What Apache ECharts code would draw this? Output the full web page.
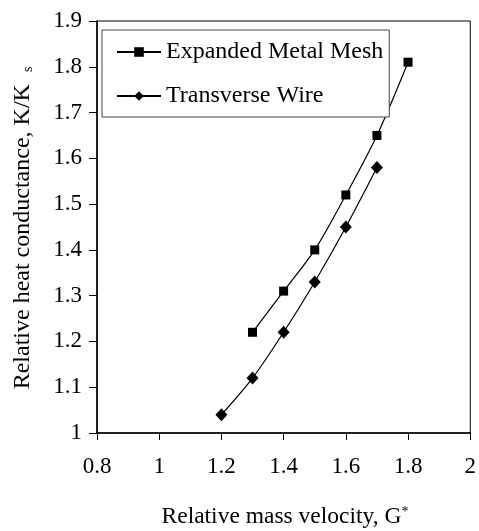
<!DOCTYPE html>
<html>
<head>
<meta charset="utf-8">
<script src="https://cdn.jsdelivr.net/npm/echarts@6/dist/echarts.min.js"></script>
<style>
html,body{margin:0;padding:0;background:#fff;}
#chart{width:479px;height:531px;}
</style>
</head>
<body>
<div id="chart"></div>
<script>
var seriesNames = ['Expanded Metal Mesh', 'Transverse Wire'];
var meshX = [1.3, 1.4, 1.5, 1.6, 1.7, 1.8];
var meshY = [1.22, 1.31, 1.40, 1.52, 1.65, 1.81];
var wireX = [1.2, 1.3, 1.4, 1.5, 1.6, 1.7];
var wireY = [1.04, 1.12, 1.22, 1.33, 1.45, 1.58];
var xTickLabels = ['0.8', '1', '1.2', '1.4', '1.6', '1.8', '2'];
var yTickLabels = ['1', '1.1', '1.2', '1.3', '1.4', '1.5', '1.6', '1.7', '1.8', '1.9'];
var xTitle = 'Relative mass velocity, G';
var yTitle = 'Relative heat conductance, K/K';

var FONT = "'Liberation Serif', 'Times New Roman', serif";
function pairs(xs, ys) { return xs.map(function (x, i) { return [x, ys[i]]; }); }
function fmt(labels, min, step) {
  return function (v) { var i = Math.round((v - min) / step); return labels[i] !== undefined ? labels[i] : ''; };
}

var chart = echarts.init(document.getElementById('chart'), null, { renderer: 'canvas' });
chart.setOption({
  backgroundColor: '#fff',
  animation: false,
  grid: { left: 97, right: 6, top: 21, bottom: 98, show: true, borderColor: '#000', borderWidth: 1, backgroundColor: 'transparent' },
  legend: {
    orient: 'vertical', left: 102, top: 30,
    padding: [10, 6, 9, 14],
    backgroundColor: '#fff', borderColor: '#444', borderWidth: 1,
    itemWidth: 44, itemHeight: 12, itemGap: 20,
    textStyle: { fontFamily: FONT, fontSize: 24, color: '#000', lineHeight: 24 },
    data: seriesNames
  },
  xAxis: {
    type: 'value', min: 0.8, max: 2, interval: 0.2,
    axisLine: { show: true, onZero: false, lineStyle: { color: '#000', width: 1.5 } },
    axisTick: { show: true, inside: false, length: 7, lineStyle: { color: '#000', width: 1 } },
    axisLabel: { margin: 22, fontFamily: FONT, fontSize: 23, color: '#000', formatter: fmt(xTickLabels, 0.8, 0.2) },
    splitLine: { show: false }
  },
  yAxis: {
    type: 'value', min: 1, max: 1.9, interval: 0.1,
    axisLine: { show: true, onZero: false, lineStyle: { color: '#000', width: 1.5 } },
    axisTick: { show: true, inside: false, length: 8, lineStyle: { color: '#000', width: 1 } },
    axisLabel: { margin: 15, fontFamily: FONT, fontSize: 23, color: '#000', formatter: fmt(yTickLabels, 1, 0.1) },
    splitLine: { show: false }
  },
  series: [
    {
      name: seriesNames[0], type: 'line', data: pairs(meshX, meshY),
      smooth: 0.3, symbol: 'rect', symbolSize: 9,
      lineStyle: { color: '#000', width: 1.2 }, itemStyle: { color: '#000' }
    },
    {
      name: seriesNames[1], type: 'line', data: pairs(wireX, wireY),
      smooth: 0.3, symbol: 'diamond', symbolSize: [12, 13],
      lineStyle: { color: '#000', width: 1.2 }, itemStyle: { color: '#000' }
    }
  ],
  graphic: [
    {
      type: 'text', x: 285, y: 517,
      style: {
        text: xTitle + '{sup|*}', align: 'center', verticalAlign: 'middle',
        font: '23.5px ' + FONT, fill: '#000',
        rich: { sup: { fontSize: 14, fontFamily: FONT, verticalAlign: 'top', fill: '#000' } }
      }
    },
    {
      type: 'text', x: 23, y: 228, rotation: Math.PI / 2,
      style: {
        text: yTitle + '{sub|s}', align: 'center', verticalAlign: 'middle',
        font: '24px ' + FONT, fill: '#000',
        rich: { sub: { fontSize: 14, fontFamily: FONT, verticalAlign: 'bottom', padding: [0, 0, 0, 12], fill: '#000' } }
      }
    }
  ]
});
</script>
</body>
</html>
